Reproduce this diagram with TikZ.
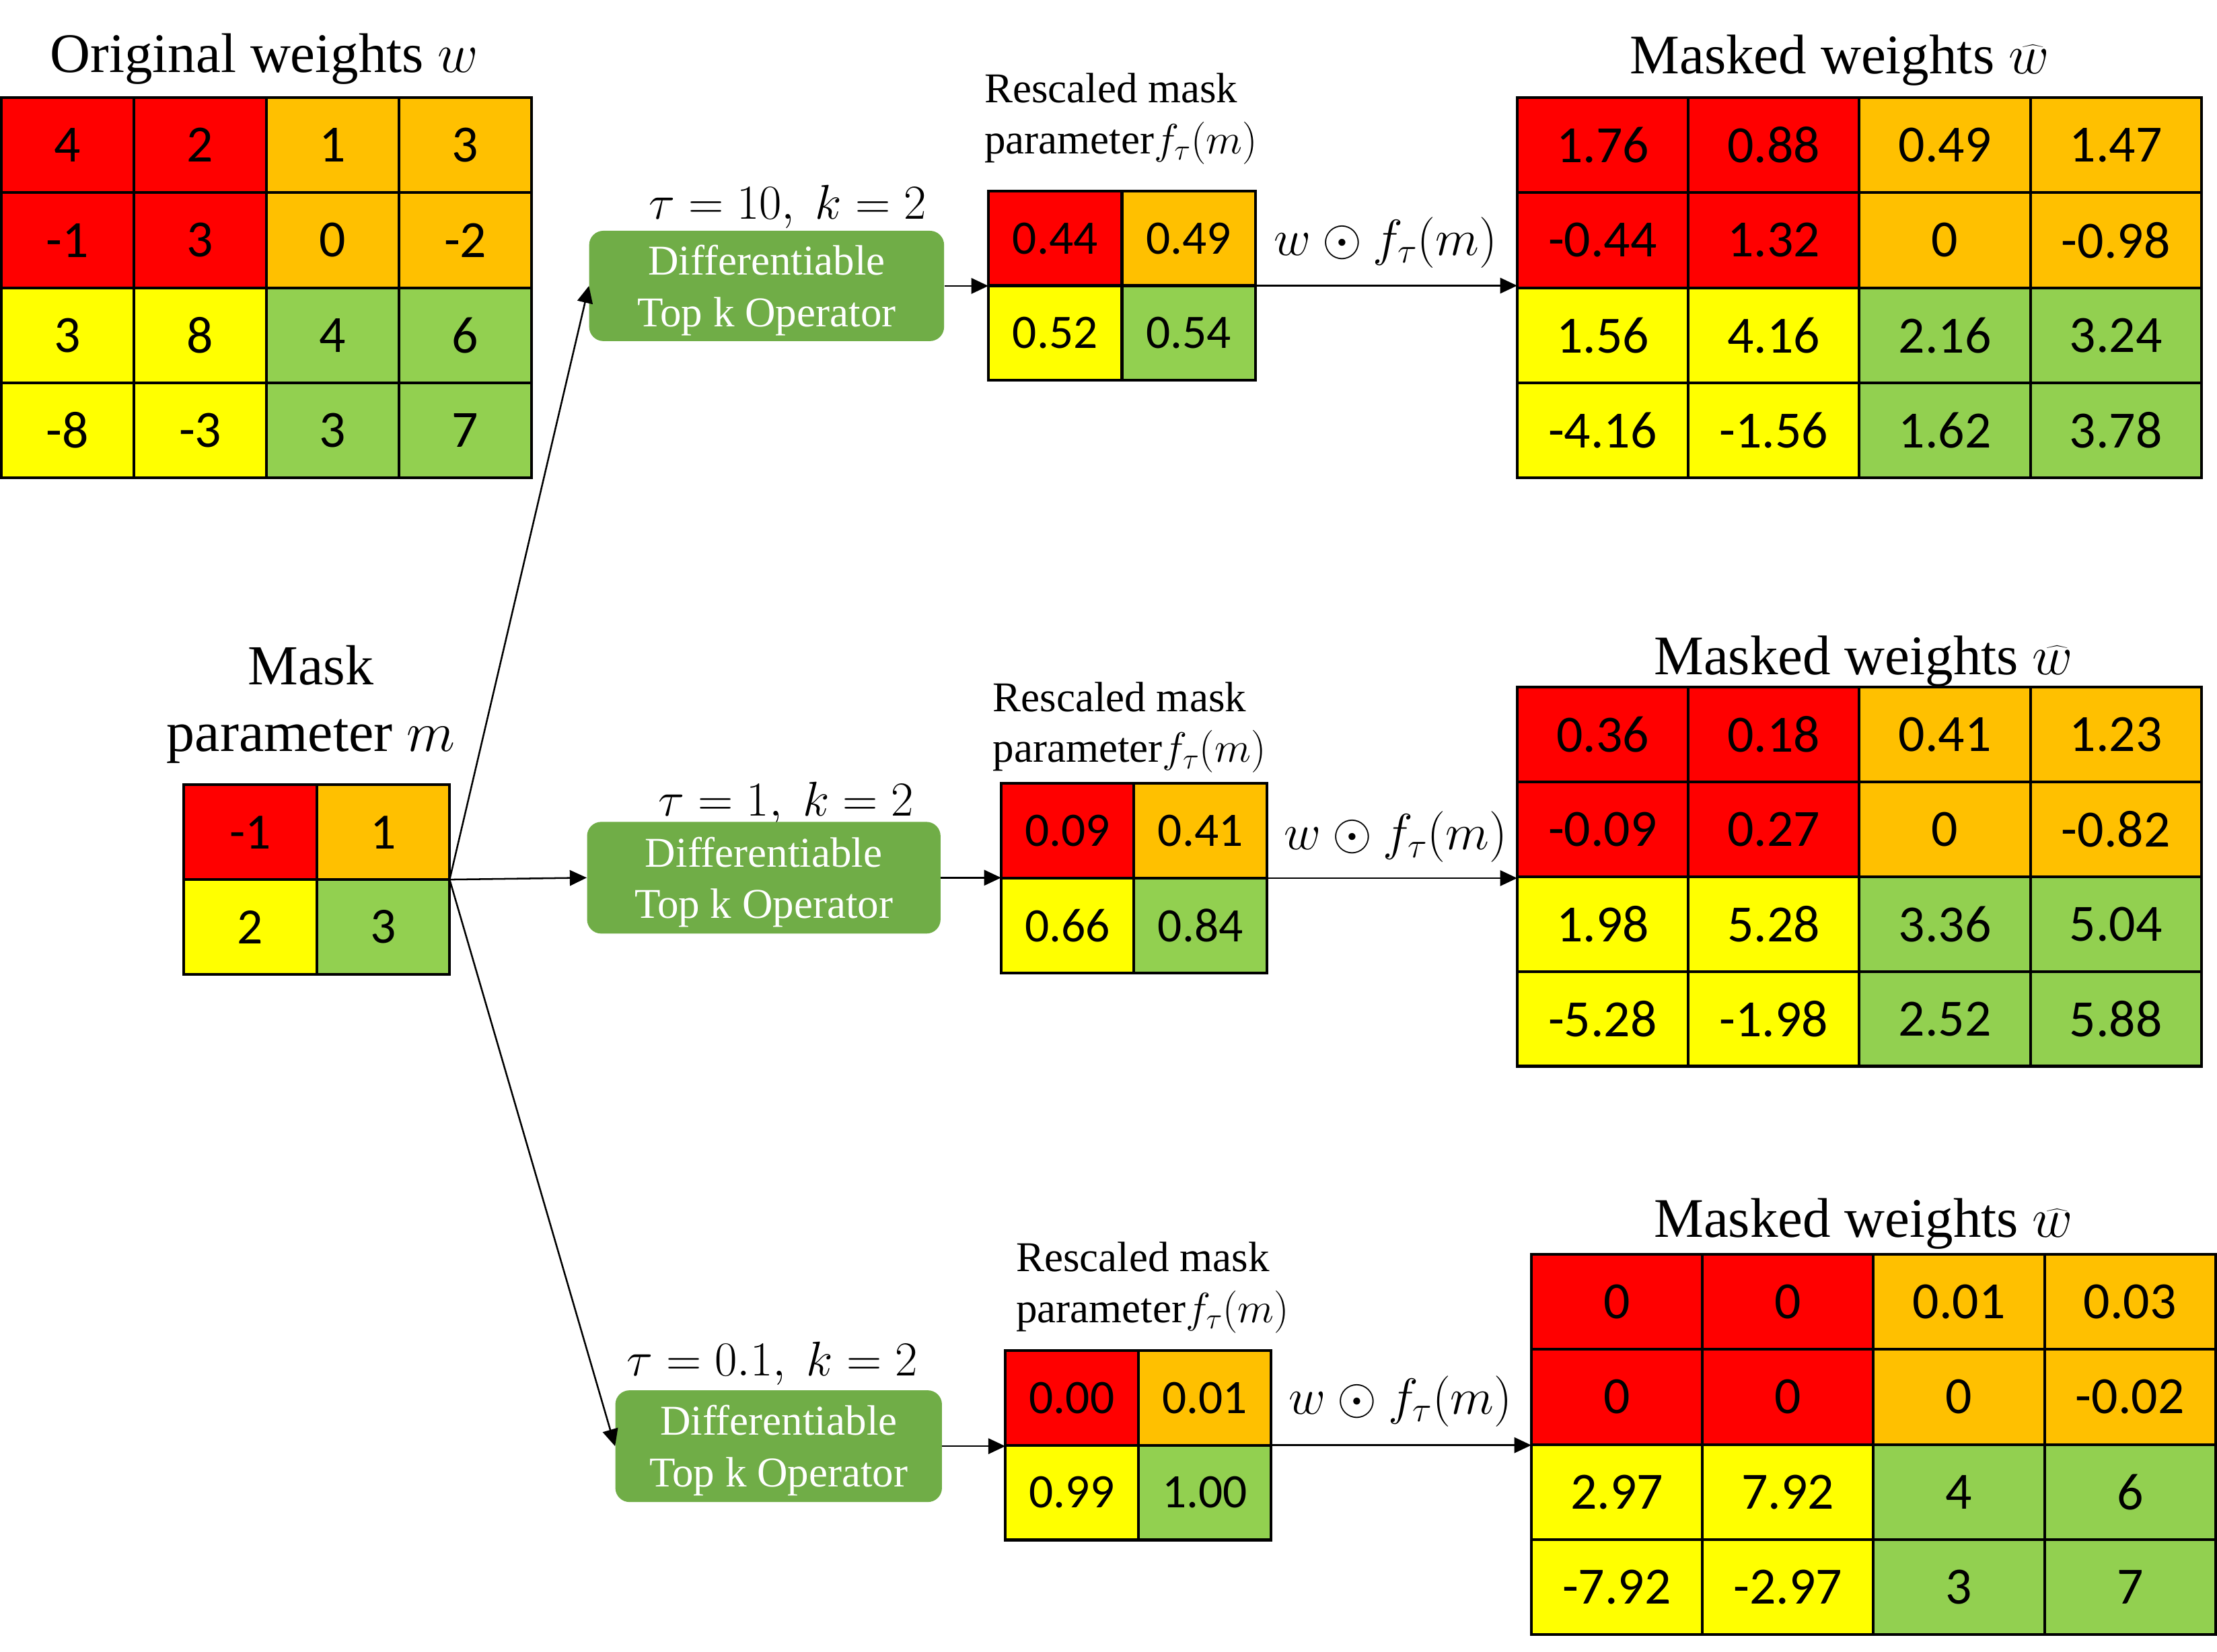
\RequirePackage{fix-cm}
\documentclass[tikz,border=0pt]{standalone}
\usepackage{fontspec}
\setmainfont{Liberation Serif}
\newfontfamily\cellfont{Carlito}
\usetikzlibrary{arrows.meta}
\definecolor{cRed}{HTML}{FF0000}
\definecolor{cOra}{HTML}{FFC000}
\definecolor{cYel}{HTML}{FFFF00}
\definecolor{cGre}{HTML}{92D050}
\definecolor{cBox}{HTML}{70AD47}
\tikzset{
  cellbox/.style={draw=black, line width=2pt, inner sep=0pt, outer sep=0pt, anchor=north west},
  gridframe/.style={draw=black, line width=2pt, inner sep=0pt, outer sep=0pt, anchor=north west},
  opbox/.style={fill=cBox, rounded corners=10pt, text=white, align=center,
    font=\fontsize{30}{36.5}\selectfont, inner sep=0pt, text depth=0pt, anchor=north west},
  conn/.style={line width=1.2pt, -{Triangle[length=12pt,width=11pt]}},
  titletext/.style={anchor=base, inner sep=0pt, font=\fontsize{39.5}{46}\selectfont},
  resctext/.style={anchor=north west, align=left, inner sep=0pt, font=\fontsize{30}{36}\selectfont},
  parmtext/.style={anchor=base, inner sep=0pt, font=\fontsize{34.5}{40}\selectfont},
  prodtext/.style={anchor=base, inner sep=0pt, font=\fontsize{36}{40}\selectfont},
}
% #1 prefix, #2 x0, #3 y0, #4 cell width, #5 cell height, #6 half, #7 font size, #8 list r/c/value
\newcommand{\drawgrid}[8]{%
  \foreach \rr/\cc/\vv in {#8} {%
    \ifnum\rr<#6 \ifnum\cc<#6 \def\fillc{cRed}\else\def\fillc{cOra}\fi
    \else \ifnum\cc<#6 \def\fillc{cYel}\else\def\fillc{cGre}\fi\fi
    \node[cellbox, fill=\fillc, minimum width=#4pt, minimum height=#5pt,
      font=\cellfont\fontsize{#7}{#7}\selectfont] (#1\rr\cc) at ({#2+\cc*#4},{#3+\rr*#5}) {\vv};
  }%
}
\begin{document}
\begin{tikzpicture}[x=1pt,y=-1pt]
\useasboundingbox (0,0) rectangle (1568,1168);

% ---------- original weights ----------
\node[titletext] (tW) at (187,51) {Original weights $w$};
\drawgrid{W}{1}{69}{93.75}{67.25}{2}{37}{0/0/4,0/1/2,0/2/1,0/3/3,1/0/-1,1/1/3,1/2/0,1/3/-2,2/0/3,2/1/8,2/2/4,2/3/6,3/0/-8,3/1/-3,3/2/3,3/3/7}
\node[gridframe, minimum width=375pt, minimum height=269pt] (W) at (1,69) {};

% ---------- mask parameter ----------
\node[anchor=north, align=center, inner sep=0pt, font=\fontsize{40}{47}\selectfont] (tM) at (220,456.3) {Mask\\parameter $m$};
\drawgrid{M}{130}{555}{94}{67}{1}{36}{0/0/-1,0/1/1,1/0/2,1/1/3}
\node[gridframe, minimum width=188pt, minimum height=134pt] (M) at (130,555) {};

% ---------- top pipeline ----------
\node[parmtext] (p1) at (557,155) {$\tau = 10,\ k = 2$};
\node[opbox, minimum width=251pt, minimum height=78pt] (op1) at (416.5,163) {Differentiable\\Top k Operator};
\node[resctext] (r1) at (696,51.5) {Rescaled mask\\parameter$f_\tau(m)$};
\drawgrid{S1}{699}{135}{94.5}{67}{1}{34}{0/0/0.44,0/1/0.49,1/0/0.52,1/1/0.54}
\node[gridframe, minimum width=189pt, minimum height=134pt] (S1) at (699,135) {};
\node[prodtext] (f1) at (980,180.5) {$w\odot f_\tau(m)$};
\node[titletext] (tR1) at (1301,52) {Masked weights $\widehat{w}$};
\drawgrid{R1}{1073}{69}{121}{67.25}{2}{37}{0/0/1.76,0/1/0.88,0/2/0.49,0/3/1.47,1/0/-0.44,1/1/1.32,1/2/0,1/3/-0.98,2/0/1.56,2/1/4.16,2/2/2.16,2/3/3.24,3/0/-4.16,3/1/-1.56,3/2/1.62,3/3/3.78}
\node[gridframe, minimum width=484pt, minimum height=269pt] (R1) at (1073,69) {};

% ---------- middle pipeline ----------
\node[parmtext] (p2) at (556,577) {$\tau = 1,\ k = 2$};
\node[opbox, minimum width=250pt, minimum height=79pt] (op2) at (415,581) {Differentiable\\Top k Operator};
\node[resctext] (r2) at (702,482.1) {Rescaled mask\\parameter$f_\tau(m)$};
\drawgrid{S2}{708}{554}{94}{67}{1}{34}{0/0/0.09,0/1/0.41,1/0/0.66,1/1/0.84}
\node[gridframe, minimum width=188pt, minimum height=134pt] (S2) at (708,554) {};
\node[prodtext] (f2) at (987,601) {$w\odot f_\tau(m)$};
\node[titletext] (tR2) at (1318,477) {Masked weights $\widehat{w}$};
\drawgrid{R2}{1073}{486}{121}{67}{2}{37}{0/0/0.36,0/1/0.18,0/2/0.41,0/3/1.23,1/0/-0.09,1/1/0.27,1/2/0,1/3/-0.82,2/0/1.98,2/1/5.28,2/2/3.36,2/3/5.04,3/0/-5.28,3/1/-1.98,3/2/2.52,3/3/5.88}
\node[gridframe, minimum width=484pt, minimum height=268pt] (R2) at (1073,486) {};

% ---------- bottom pipeline ----------
\node[parmtext] (p3) at (546,973) {$\tau = 0.1,\ k = 2$};
\node[opbox, minimum width=231pt, minimum height=79pt] (op3) at (435,983) {Differentiable\\Top k Operator};
\node[resctext] (r3) at (718.5,878.2) {Rescaled mask\\parameter$f_\tau(m)$};
\drawgrid{S3}{711}{955}{94}{67}{1}{34}{0/0/0.00,0/1/0.01,1/0/0.99,1/1/1.00}
\node[gridframe, minimum width=188pt, minimum height=134pt] (S3) at (711,955) {};
\node[prodtext] (f3) at (990.5,1000) {$w\odot f_\tau(m)$};
\node[titletext] (tR3) at (1318,875) {Masked weights $\widehat{w}$};
\drawgrid{R3}{1083}{887}{121}{67.25}{2}{37}{0/0/0,0/1/0,0/2/0.01,0/3/0.03,1/0/0,1/1/0,1/2/0,1/3/-0.02,2/0/2.97,2/1/7.92,2/2/4,2/3/6,3/0/-7.92,3/1/-2.97,3/2/3,3/3/7}
\node[gridframe, minimum width=484pt, minimum height=269pt] (R3) at (1083,887) {};

% ---------- connectors ----------
\draw[conn] (M.east) -- (op1.west);
\draw[conn] (M.east) -- (op2.west);
\draw[conn] (M.east) -- (op3.west);
\draw[conn] (op1.east) -- (op1.east -| S1.west);
\draw[conn] (op2.east) -- (op2.east -| S2.west);
\draw[conn] (op3.east) -- (op3.east -| S3.west);
\draw[conn] (S1.east) -- (S1.east -| R1.west);
\draw[conn] (S2.east) -- (S2.east -| R2.west);
\draw[conn] (S3.east) -- (S3.east -| R3.west);
\end{tikzpicture}
\end{document}
